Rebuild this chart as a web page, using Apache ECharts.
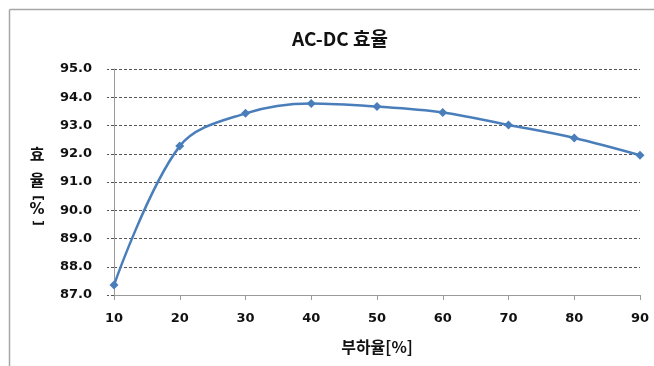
<!DOCTYPE html>
<html>
<head>
<meta charset="utf-8">
<script src="https://cdn.jsdelivr.net/npm/echarts@6/dist/echarts.min.js"></script>
<style>
  html, body { margin: 0; padding: 0; background: #fff; }
  #chart { width: 654px; height: 366px; }
</style>
</head>
<body>
<div id="chart"></div>
<script>
// Load ratio [%] and measured AC-DC efficiency [%]
const loadRatio = [10, 20, 30, 40, 50, 60, 70, 80, 90];
const efficiency = [87.35, 92.27, 93.43, 93.78, 93.67, 93.46, 93.02, 92.56, 91.95];

const xTicks = { min: 10, max: 90, step: 10 };
const yTicks = { min: 87, max: 95, step: 1 };

const titleText = 'AC-DC 효율';
const xName = '부하율[%]';
// stacked axis title; brackets are turned sideways
const yNameChars = [
  { ch: '효', y: 154, turn: false },
  { ch: '율', y: 180, turn: false },
  { ch: '[', y: 198, turn: true },
  { ch: '%', y: 210, turn: false },
  { ch: ']', y: 223, turn: true }
];

const lineColor = '#4a7ebb';
const numFont = '"DejaVu Sans", Verdana, sans-serif';
const krFont = '"Noto Sans CJK KR", "Noto Sans", sans-serif';

const chart = echarts.init(document.getElementById('chart'), null, { renderer: 'canvas' });

const yNameGraphics = yNameChars.map(c => ({
  type: 'text',
  x: 37,
  y: c.y,
  rotation: c.turn ? -Math.PI / 2 : 0,
  style: {
    text: c.ch,
    align: 'center', verticalAlign: 'middle',
    fontFamily: c.turn || c.ch === '%' ? numFont : krFont,
    fontWeight: 'bold',
    fontSize: c.turn ? 13 : (c.ch === '%' ? 15 : 16),
    fill: '#111'
  }
}));

chart.setOption({
  animation: false,
  backgroundColor: '#fff',
  title: {
    text: titleText,
    left: 335,
    top: 24,
    textAlign: 'center',
    textStyle: { fontFamily: krFont, fontWeight: 'bold', fontSize: 19, color: '#111' }
  },
  grid: { left: 114, right: 14, top: 69, bottom: 71, containLabel: false },
  xAxis: {
    type: 'value',
    min: xTicks.min, max: xTicks.max, interval: xTicks.step,
    name: xName,
    nameLocation: 'middle',
    nameGap: 44,
    nameTextStyle: { fontFamily: krFont, fontWeight: 'bold', fontSize: 16, color: '#111' },
    axisLine: { show: true, lineStyle: { color: '#9a9a9a', width: 1 } },
    axisTick: { show: true, length: 5, lineStyle: { color: '#9a9a9a' } },
    axisLabel: { margin: 17, fontFamily: numFont, fontWeight: 'bold', fontSize: 13, color: '#111' },
    splitLine: { show: false }
  },
  yAxis: {
    type: 'value',
    min: yTicks.min, max: yTicks.max, interval: yTicks.step,
    axisLine: { show: true, lineStyle: { color: '#9a9a9a', width: 1 } },
    axisTick: { show: true, length: 7, lineStyle: { color: '#555', type: [3, 2] } },
    axisLabel: {
      margin: 22,
      fontFamily: numFont, fontWeight: 'bold', fontSize: 13, color: '#111',
      formatter: v => v.toFixed(1)
    },
    splitLine: { show: true, lineStyle: { color: '#555', width: 1, type: [3, 2] } }
  },
  series: [{
    type: 'line',
    data: loadRatio.map((x, i) => [x, efficiency[i]]),
    smooth: 0.35,
    symbol: 'diamond',
    symbolSize: 9,
    lineStyle: { color: lineColor, width: 2.5 },
    itemStyle: { color: lineColor },
    clip: false
  }],
  graphic: [
    // outer chart frame (top and left edges)
    { type: 'line', shape: { x1: 9.5, y1: 9.5, x2: 654, y2: 9.5 }, style: { stroke: '#a6a6a6', lineWidth: 1.5 } },
    { type: 'line', shape: { x1: 9.5, y1: 9.5, x2: 9.5, y2: 366 }, style: { stroke: '#a6a6a6', lineWidth: 1.5 } },
    ...yNameGraphics
  ]
});
</script>
</body>
</html>
